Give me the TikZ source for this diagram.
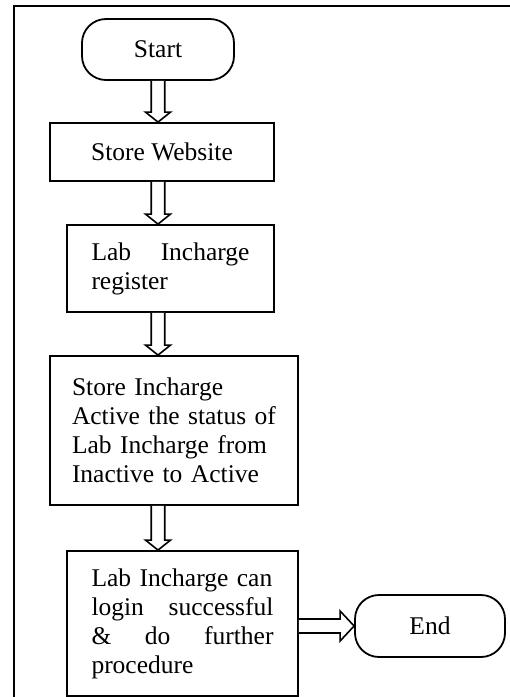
\documentclass[tikz,border=0pt]{standalone}
\usepackage{fontspec}
\setmainfont{Liberation Serif}
\usetikzlibrary{calc}
\tikzset{
  every node/.style={font=\fontsize{25.5}{29}\selectfont},
  terminal/.style={draw, line width=1.8pt, rounded corners=24pt, minimum width=152pt, minimum height=61pt, inner sep=0pt},
  process/.style={draw, line width=1.8pt, inner sep=0pt},
  blockarrow/.style={draw, line width=1.6pt, line join=miter, fill=white},
  frame/.style={draw, line width=2pt}
}
\newcommand\varrow[2]{\draw[blockarrow] let \p0=(start.center), \p1=(#1.south), \p2=(#2.north) in
  (\x0-6.75pt,\y1) -- (\x0-6.75pt,\y2+10pt) -- (\x0-12.5pt,\y2+10pt) -- (\x0,\y2) --
  (\x0+12.5pt,\y2+10pt) -- (\x0+6.75pt,\y2+10pt) -- (\x0+6.75pt,\y1);}
\begin{document}
\begin{tikzpicture}[x=1pt,y=-1pt]
\useasboundingbox (0,0) rectangle (510,697);
\clip (0,0) rectangle (510,697);
\fill[white] (0,0) rectangle (510,697);
\draw[frame] (14,6) rectangle (540,730);
\node[terminal] (start) at (158,49.5) {Start};
\node[process, minimum width=224pt, minimum height=58pt] (web) at (162,152) {Store Website};
\node[process, minimum width=207pt, minimum height=87pt, text width=158pt, align=left] (reg) at (170.5,268.5) {Lab\hfill Incharge\\register};
\node[process, minimum width=248pt, minimum height=149pt, text width=204pt, align=left] (act) at (174,430.5) {Store Incharge\\Active the status of\\Lab Incharge from\\Inactive to Active};
\node[process, minimum width=231pt, minimum height=145pt, text width=182pt, align=left] (login) at (182.5,623.5) {Lab Incharge can\\login\hfill successful\\\&\hfill do\hfill further\\procedure};
\node[terminal, minimum width=150pt, minimum height=62pt] (end) at (430,626) {End};
\varrow{start}{web}
\varrow{web}{reg}
\varrow{reg}{act}
\varrow{act}{login}
\draw[blockarrow] let \p1=(login.east), \p2=(end.west) in
  (\x1,\y2+7pt) -- (\x2-14pt,\y2+7pt) -- (\x2-14pt,\y2+15pt) -- (\x2,\y2) --
  (\x2-14pt,\y2-15pt) -- (\x2-14pt,\y2-7pt) -- (\x1,\y2-7pt);
\end{tikzpicture}
\end{document}
